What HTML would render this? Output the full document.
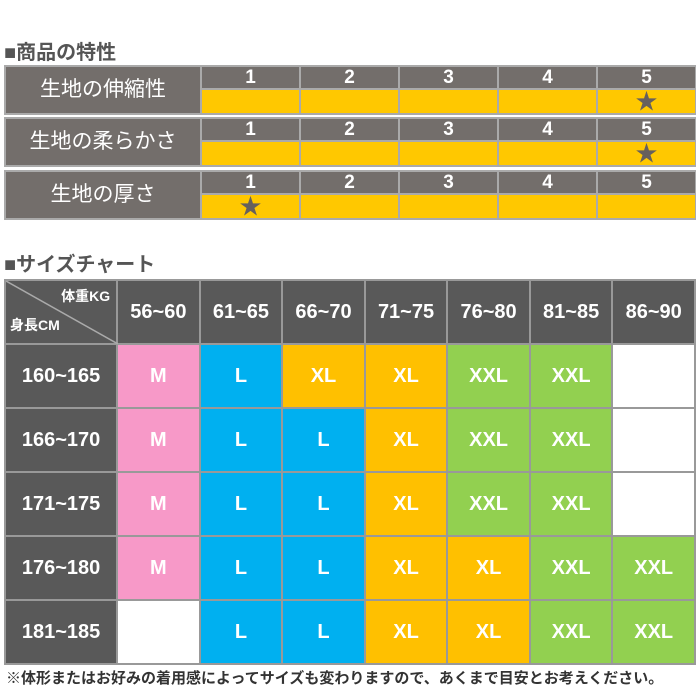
<!DOCTYPE html>
<html><head><meta charset="utf-8"><style>
body{margin:0;width:700px;height:700px;background:#fff;position:relative;overflow:hidden;font-family:"Liberation Sans","Noto Sans CJK JP",sans-serif}
.a{position:absolute}
.h{font-size:20px;font-weight:bold;color:#555;left:4px}
.row{position:absolute;left:4px;width:692px;height:50px;background:#aaa}
.lab{position:absolute;left:2px;top:2px;width:194px;height:46px;background:#736e6b;color:#fff;font-size:21px;text-align:center;line-height:46px}
.n{position:absolute;top:2px;width:97px;height:21px;background:#736e6b;color:#fff;font-size:19px;font-weight:bold;text-align:center;line-height:21px}
.y{position:absolute;top:25px;width:97px;height:23px;background:#ffc800;color:#66605d;font-size:22px;text-align:center;line-height:23px}
table{position:absolute;left:4px;top:279px;border-collapse:collapse;width:692px}
td{border:2px solid #999;text-align:center;font-weight:bold;font-size:20px;color:#fff;height:62px;padding:0;width:82px}
.d{background:#595959}
.P{background:#f799c8}.B{background:#00b0f0}.O{background:#ffc000}.G{background:#92d050}.W{background:#fff}
</style></head><body>
<div class="a h" style="top:36px">■商品の特性</div>
<div class="row" style="top:65px"><div class="lab">生地の伸縮性</div>
<div class="n" style="left:198px">1</div><div class="n" style="left:297px">2</div><div class="n" style="left:396px">3</div><div class="n" style="left:495px">4</div><div class="n" style="left:594px">5</div>
<div class="y" style="left:198px"></div><div class="y" style="left:297px"></div><div class="y" style="left:396px"></div><div class="y" style="left:495px"></div><div class="y" style="left:594px">&#9733;</div></div>
<div class="row" style="top:117px"><div class="lab">生地の柔らかさ</div>
<div class="n" style="left:198px">1</div><div class="n" style="left:297px">2</div><div class="n" style="left:396px">3</div><div class="n" style="left:495px">4</div><div class="n" style="left:594px">5</div>
<div class="y" style="left:198px"></div><div class="y" style="left:297px"></div><div class="y" style="left:396px"></div><div class="y" style="left:495px"></div><div class="y" style="left:594px">&#9733;</div></div>
<div class="row" style="top:170px"><div class="lab">生地の厚さ</div>
<div class="n" style="left:198px">1</div><div class="n" style="left:297px">2</div><div class="n" style="left:396px">3</div><div class="n" style="left:495px">4</div><div class="n" style="left:594px">5</div>
<div class="y" style="left:198px">&#9733;</div><div class="y" style="left:297px"></div><div class="y" style="left:396px"></div><div class="y" style="left:495px"></div><div class="y" style="left:594px"></div></div>
<div class="a h" style="top:248px">■サイズチャート</div>
<table>
<tr><td class="d" style="width:112px;position:relative;height:61px"><svg class="a" style="left:0;top:0" width="112" height="63"><line x1="0" y1="0" x2="112" y2="63" stroke="#aaa" stroke-width="1.5"/></svg><span class="a" style="right:6px;top:5px;font-size:14px">体重KG</span><span class="a" style="left:4px;bottom:8px;font-size:14px">身長CM</span></td>
<td class="d">56~60</td><td class="d">61~65</td><td class="d">66~70</td><td class="d">71~75</td><td class="d">76~80</td><td class="d">81~85</td><td class="d">86~90</td></tr>
<tr><td class="d">160~165</td><td class="P">M</td><td class="B">L</td><td class="O">XL</td><td class="O">XL</td><td class="G">XXL</td><td class="G">XXL</td><td class="W"></td></tr>
<tr><td class="d">166~170</td><td class="P">M</td><td class="B">L</td><td class="B">L</td><td class="O">XL</td><td class="G">XXL</td><td class="G">XXL</td><td class="W"></td></tr>
<tr><td class="d">171~175</td><td class="P">M</td><td class="B">L</td><td class="B">L</td><td class="O">XL</td><td class="G">XXL</td><td class="G">XXL</td><td class="W"></td></tr>
<tr><td class="d">176~180</td><td class="P">M</td><td class="B">L</td><td class="B">L</td><td class="O">XL</td><td class="O">XL</td><td class="G">XXL</td><td class="G">XXL</td></tr>
<tr><td class="d">181~185</td><td class="W"></td><td class="B">L</td><td class="B">L</td><td class="O">XL</td><td class="O">XL</td><td class="G">XXL</td><td class="G">XXL</td></tr>
</table>
<div class="a" style="left:6px;top:667px;font-size:15px;font-weight:bold;color:#333">※体形またはお好みの着用感によってサイズも変わりますので、あくまで目安とお考えください。</div>
</body></html>
